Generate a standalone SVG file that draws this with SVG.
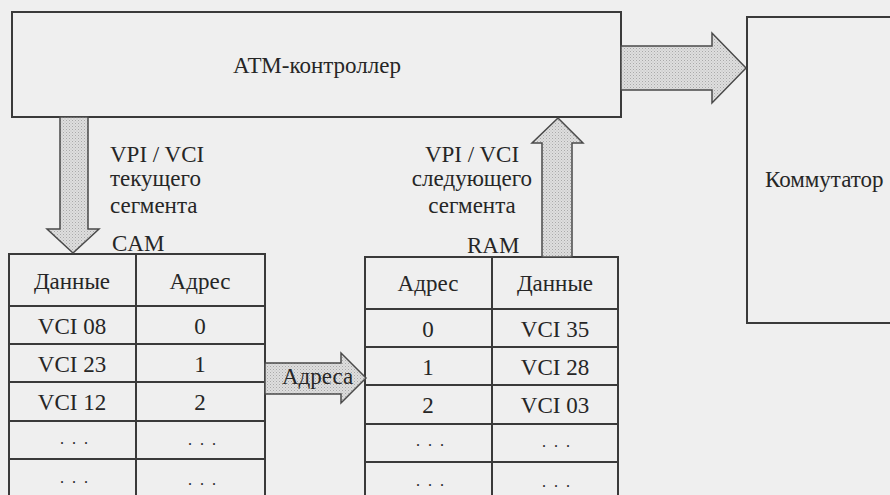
<svg xmlns="http://www.w3.org/2000/svg" width="890" height="495" viewBox="0 0 890 495">
<defs>
<pattern id="stip" width="3" height="3" patternUnits="userSpaceOnUse">
<rect width="3" height="3" fill="#dedede"/>
<rect x="0" y="0" width="1" height="1" fill="#a9a9a9"/>
<rect x="1.5" y="1.5" width="1" height="1" fill="#bdbdbd"/>
</pattern>
</defs>
<style>
.box{fill:none;stroke:#3a3a3a;stroke-width:2}
.ln{stroke:#3a3a3a;stroke-width:2;fill:none}
.arr{fill:url(#stip);stroke:#4a4a4a;stroke-width:1.5;stroke-linejoin:miter}
text{font-family:"Liberation Serif","Times New Roman",serif;font-size:23px;fill:#262626}
.c{text-anchor:middle}
.dots{font-size:16px;letter-spacing:2px}
</style>
<rect width="890" height="495" fill="#efefef"/>

<g id="atm-controller">
<rect class="box" x="12" y="12" width="609" height="105"/>
<text class="c" x="317" y="73">АТМ-контроллер</text>
</g>

<g id="commutator">
<rect class="box" x="747" y="17" width="160" height="306"/>
<text x="765" y="187">Коммутатор</text>
</g>

<g id="cam-table">
<path class="ln" d="M9,495 V254 H265 V495 M136,254 V495 M9,306 H265 M9,344 H265 M9,382 H265 M9,421 H265 M9,459 H265"/>
<text class="c" x="72" y="289">Данные</text>
<text class="c" x="200" y="289">Адрес</text>
<text class="c" x="72" y="334">VCI 08</text>
<text class="c" x="200" y="334">0</text>
<text class="c" x="72" y="372">VCI 23</text>
<text class="c" x="200" y="372">1</text>
<text class="c" x="72" y="410">VCI 12</text>
<text class="c" x="200" y="410">2</text>
<text class="c dots" x="75" y="444">. . .</text>
<text class="c dots" x="203" y="445">. . .</text>
<text class="c dots" x="75" y="483">. . .</text>
<text class="c dots" x="203" y="485">. . .</text>
<text x="112" y="251">CAM</text>
</g>

<g id="ram-table">
<path class="ln" d="M365,495 V257 H618 V495 M492,257 V495 M365,309 H618 M365,347 H618 M365,385 H618 M365,424 H618 M365,462 H618"/>
<text class="c" x="428" y="291">Адрес</text>
<text class="c" x="555" y="291">Данные</text>
<text class="c" x="428" y="337">0</text>
<text class="c" x="555" y="337">VCI 35</text>
<text class="c" x="428" y="375">1</text>
<text class="c" x="555" y="375">VCI 28</text>
<text class="c" x="428" y="413">2</text>
<text class="c" x="555" y="413">VCI 03</text>
<text class="c dots" x="431" y="446">. . .</text>
<text class="c dots" x="557" y="447">. . .</text>
<text class="c dots" x="431" y="486">. . .</text>
<text class="c dots" x="557" y="487">. . .</text>
<text x="467" y="253">RAM</text>
</g>

<g id="connectors">
<polygon class="arr" points="621,46 712,46 712,33 746,68 712,103 712,90 621,90"/>
<polygon class="arr" points="60,117 88,117 88,229 99,229 73,253 47,229 60,229"/>
<polygon class="arr" points="542,257 542,143 532,143 558,118 583,143 572,143 572,257"/>
<polygon class="arr" points="265,363 341,363 341,353 366,378 341,403 341,394 265,394"/>
</g>

<g id="labels">
<text x="110" y="162">VPI / VCI</text>
<text x="110" y="186">текущего</text>
<text x="110" y="213">сегмента</text>
<text class="c" x="472" y="162">VPI / VCI</text>
<text class="c" x="472" y="186">следующего</text>
<text class="c" x="472" y="213">сегмента</text>
<text x="282" y="384">Адреса</text>
</g>
</svg>
